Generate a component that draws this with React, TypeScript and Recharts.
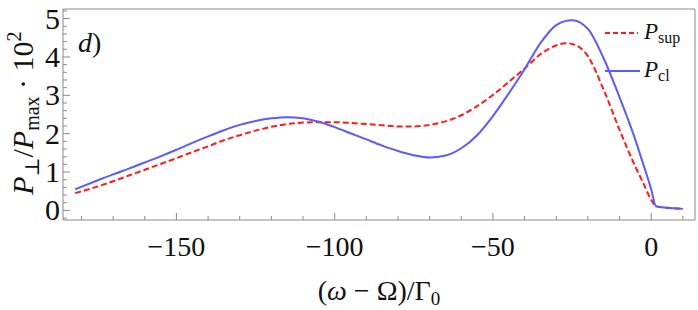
import { LineChart, Line, XAxis, YAxis, ReferenceArea } from 'recharts';

// detuning (omega - Omega)/Gamma0
const omega = [
  -182, -175, -170, -165, -160, -155, -150, -145, -140, -135, -130, -125, -120, -115, -110, -105,
  -100, -95, -90, -85, -80, -75, -70, -65, -60, -55, -50, -45, -40, -35, -30, -27, -25, -20, -15,
  -10, -5, -3, 0, 1.5, 5, 10,
];
// P_sup (red dashed)
const pSup = [
  0.45, 0.62, 0.76, 0.91, 1.06, 1.21, 1.36, 1.52, 1.67, 1.83, 1.96, 2.08, 2.18, 2.25, 2.29, 2.3,
  2.3, 2.28, 2.25, 2.22, 2.19, 2.19, 2.23, 2.32, 2.48, 2.72, 3.01, 3.35, 3.7, 4.07, 4.3, 4.36, 4.34,
  4.02, 3.14, 2.1, 1.14, 0.8, 0.28, 0.11, 0.07, 0.04,
];
// P_cl (blue solid)
const pCl = [
  0.55, 0.78, 0.94, 1.09, 1.25, 1.41, 1.58, 1.76, 1.93, 2.09, 2.23, 2.33, 2.4, 2.43, 2.4, 2.31,
  2.17, 2.01, 1.85, 1.69, 1.55, 1.44, 1.38, 1.43, 1.62, 1.96, 2.46, 3.05, 3.68, 4.36, 4.83, 4.94, 4.96,
  4.73, 3.96, 2.95, 1.84, 1.33, 0.55, 0.11, 0.07, 0.04,
];

const xTicks = [-180, -170, -160, -150, -140, -130, -120, -110, -100, -90, -80, -70, -60, -50, -40, -30, -20, -10, 0, 10];
const yTicks = [
  -0.2, 0, 0.2, 0.4, 0.6, 0.8, 1, 1.2, 1.4, 1.6, 1.8, 2, 2.2, 2.4, 2.6, 2.8, 3, 3.2, 3.4, 3.6, 3.8,
  4, 4.2, 4.4, 4.6, 4.8, 5, 5.2,
];

const data = omega.map((w, i) => ({ w, sup: pSup[i], cl: pCl[i] }));

const SERIF = '"Liberation Serif", "DejaVu Serif", serif';
const FRAME = '#8a8a8a';
const RED = '#ff1a1a';
const BLUE = '#5b5bff';

// plot box edges (margin + axis sizes below)
const PLOT_LEFT = 63;
const PLOT_BOTTOM = 220;

const fmt = (v: number) => (v < 0 ? `\u2212${-v}` : `${v}`);

const XTick = (props: any) => {
  const { x, payload } = props;
  const y = PLOT_BOTTOM;
  const major = payload.value % 50 === 0;
  return (
    <g>
      <line x1={x} x2={x} y1={y} y2={y - (major ? 7 : 4)} stroke={FRAME} />
      {major && (
        <text x={x} y={y + 36} textAnchor="middle" fontFamily={SERIF} fontSize={28} fill="#111">
          {fmt(payload.value)}
        </text>
      )}
    </g>
  );
};

const YTick = (props: any) => {
  const { y, payload } = props;
  const x = PLOT_LEFT;
  const v = payload.value;
  const major = Math.abs(v - Math.round(v)) < 1e-6;
  return (
    <g>
      <line x1={x} x2={x + (major ? 7 : 4)} y1={y} y2={y} stroke={FRAME} />
      {major && (
        <text x={x - 3} y={y + 10} textAnchor="end" fontFamily={SERIF} fontSize={30} fill="#111">
          {v}
        </text>
      )}
    </g>
  );
};

export default function App() {
  return (
    <div style={{ position: 'absolute', left: 0, top: 0, background: '#fff' }}>
      <LineChart width={698} height={310} data={data} margin={{ top: 9, right: 3, bottom: 0, left: 0 }}>
        <XAxis
          dataKey="w"
          type="number"
          domain={[-185.84, 13.84]}
          ticks={xTicks}
          interval={0}
          height={90}
          tickSize={0}
          tickMargin={0}
          axisLine={false}
          tickLine={false}
          tick={<XTick />}
          allowDataOverflow
        />
        <YAxis
          type="number"
          domain={[-0.25, 5.25]}
          ticks={yTicks}
          interval={0}
          width={63}
          tickSize={0}
          tickMargin={0}
          axisLine={false}
          tickLine={false}
          tick={<YTick />}
          allowDataOverflow
        />
        <ReferenceArea x1={-185.84} x2={13.84} y1={-0.25} y2={5.25} fill="none" stroke={FRAME} strokeWidth={1} />
        <Line
          dataKey="sup"
          type="monotone"
          stroke={RED}
          strokeWidth={2}
          strokeDasharray="6 3"
          dot={false}
          isAnimationActive={false}
        />
        <Line dataKey="cl" type="monotone" stroke={BLUE} strokeWidth={2} dot={false} isAnimationActive={false} />
        {/* legend */}
        <g>
          <line x1={605} x2={638} y1={33} y2={33} stroke={RED} strokeWidth={2} strokeDasharray="5 3" />
          <text x={644} y={39} fontFamily={SERIF} fill="#111">
            <tspan fontSize={23} fontStyle="italic">P</tspan>
            <tspan fontSize={16} dy={4}>sup</tspan>
          </text>
          <line x1={605} x2={640} y1={71} y2={71} stroke={BLUE} strokeWidth={2} />
          <text x={644} y={77} fontFamily={SERIF} fill="#111">
            <tspan fontSize={23} fontStyle="italic">P</tspan>
            <tspan fontSize={16} dy={4}>cl</tspan>
          </text>
        </g>
        <text x={78} y={52} fontFamily={SERIF} fontSize={28} fill="#111">
          <tspan fontStyle="italic">d</tspan>)
        </text>
        <text x={379} y={300} textAnchor="middle" fontFamily={SERIF} fontSize={28} fill="#111">
          (<tspan fontStyle="italic">ω</tspan> − Ω)/Γ<tspan fontSize={19} dy={5}>0</tspan>
        </text>
        <text transform="translate(33,113) rotate(-90)" textAnchor="middle" fontFamily={SERIF} fontSize={30} fill="#111">
          <tspan fontStyle="italic">P</tspan>
          <tspan fontSize={20} dy={6}>⊥</tspan>
          <tspan dy={-6}>/</tspan>
          <tspan fontStyle="italic">P</tspan>
          <tspan fontSize={20} dy={6}>max</tspan>
          <tspan dy={-6}> · 10</tspan>
          <tspan fontSize={20} dy={-12}>2</tspan>
        </text>
      </LineChart>
    </div>
  );
}
